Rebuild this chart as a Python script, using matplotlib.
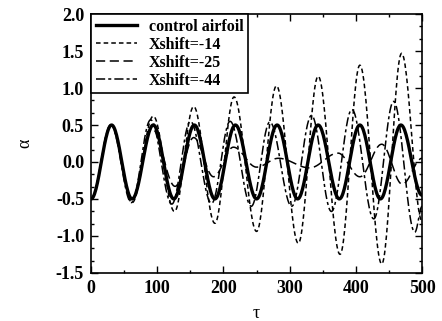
import matplotlib.pyplot as plt
import numpy as np
from matplotlib.ticker import MultipleLocator

# extrema (tau, alpha) for each curve
ctrl_tau = [0, 31, 62, 94, 125, 156, 187, 218, 250, 281, 312, 343, 375, 406, 437, 468, 500]
ctrl_alpha = [-0.5, 0.5, -0.5, 0.5, -0.5, 0.5, -0.5, 0.5, -0.5, 0.5, -0.5, 0.5, -0.5, 0.5, -0.5, 0.5, -0.45]

x14_tau = [0, 31, 62, 94, 126, 155, 187, 216, 250, 280, 313, 343, 376, 406, 439, 469, 500]
x14_alpha = [-0.5, 0.5, -0.55, 0.62, -0.67, 0.75, -0.83, 0.88, -0.94, 1.03, -1.10, 1.16, -1.25, 1.31, -1.38, 1.47, -0.8]

x25_tau = [0, 30, 62, 92, 127, 155, 185, 215, 250, 283, 330, 373, 406, 439, 470, 500]
x25_alpha = [-0.5, 0.5, -0.5, 0.45, -0.33, 0.33, -0.2, 0.2, -0.07, 0.05, -0.08, 0.12, -0.2, 0.24, -0.3, 0.05]

x44_tau = [0, 30, 61, 90, 122, 150, 182, 210, 242, 270, 303, 333, 363, 394, 427, 457, 489, 500]
x44_alpha = [-0.5, 0.5, -0.55, 0.57, -0.57, 0.55, -0.56, 0.55, -0.6, 0.54, -0.6, 0.63, -0.67, 0.71, -0.77, 0.82, -0.95, -0.6]


def smooth(ts, vs):
    # half-cosine segments between successive extrema
    xx, yy = [], []
    for i in range(len(ts) - 1):
        s = np.linspace(0, 1, 30)
        xx.extend(ts[i] + (ts[i + 1] - ts[i]) * s)
        yy.extend(vs[i] + (vs[i + 1] - vs[i]) * (1 - np.cos(np.pi * s)) / 2)
    return xx, yy


plt.rcParams['font.family'] = 'Liberation Serif'
fig = plt.figure(figsize=(4.42, 3.21), dpi=100)
ax = fig.add_axes([0.206, 0.150, 0.749, 0.806])

ax.plot(*smooth(ctrl_tau, ctrl_alpha), color='black', lw=2.4, label='control airfoil')
ax.plot(*smooth(x14_tau, x14_alpha), color='black', lw=1.1, dashes=(3, 2), label='Xshift=-14')
ax.plot(*smooth(x25_tau, x25_alpha), color='black', lw=1.1, dashes=(6, 3), label='Xshift=-25')
ax.plot(*smooth(x44_tau, x44_alpha), color='black', lw=1.1, dashes=(6, 2, 2, 2), label='Xshift=-44')

ax.set_xlim(0, 500)
ax.set_ylim(-1.5, 2.0)
ax.xaxis.set_major_locator(MultipleLocator(100))
ax.xaxis.set_minor_locator(MultipleLocator(50))
ax.yaxis.set_minor_locator(MultipleLocator(0.5 / 3))
ax.set_yticks(np.arange(-1.5, 2.01, 0.5))
ax.set_yticklabels(['%.1f' % v for v in np.arange(-1.5, 2.01, 0.5)])
ax.tick_params(which='both', direction='in', top=True, right=True, width=1.0)
ax.tick_params(which='major', length=5, labelsize=13, pad=5)
ax.tick_params(which='minor', length=2.5)
for lab in ax.get_xticklabels() + ax.get_yticklabels():
    lab.set_fontweight('bold')
for sp in ax.spines.values():
    sp.set_linewidth(1.2)

ax.set_xlabel('τ', fontsize=13, labelpad=6)
ax.set_ylabel('α', fontsize=13, rotation=90, labelpad=16)

leg = ax.legend(loc='upper left', fancybox=False, edgecolor='black', framealpha=1,
                prop={'weight': 'bold', 'size': 11.5}, handlelength=2.6,
                borderaxespad=0, borderpad=0.3, labelspacing=0.12, handletextpad=0.7)
leg.get_frame().set_linewidth(1.2)

fig.savefig('out.png', dpi=100)
